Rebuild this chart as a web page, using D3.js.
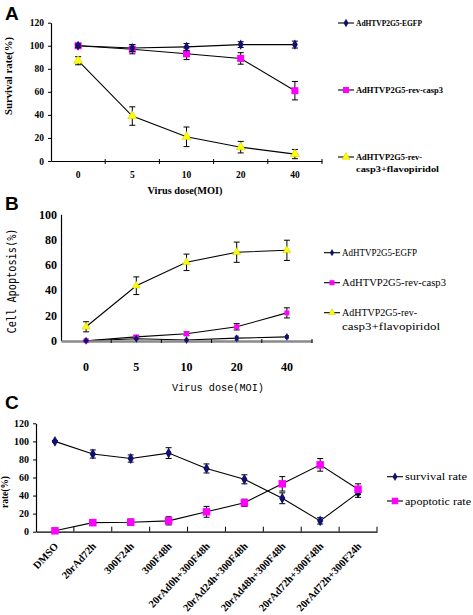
<!DOCTYPE html>
<html><head><meta charset="utf-8">
<script src="https://cdn.jsdelivr.net/npm/d3@7/dist/d3.min.js"></script>
<style>body{margin:0;background:#fff}svg{display:block}</style>
</head><body>
<svg id="c" width="473" height="615"></svg>
<script>
// ---------- DATA ----------
const doseCats = ["0", "5", "10", "20", "40"];
const seriesNames = ["AdHTVP2G5-EGFP", "AdHTVP2G5-rev-casp3", "AdHTVP2G5-rev-casp3+flavopiridol"];
// Panel A: survival rate (%)
const survEGFP = [100, 98, 99, 101, 101];
const survEGFPErr = [1.5, 3, 3, 2.5, 3];
const survCasp = [100, 97, 93, 89, 61];
const survCaspErr = [1.5, 4, 5, 5, 8];
const survFlavo = [87, 39, 21, 12, 6];
const survFlavoErr = [3.5, 8, 8.5, 5, 4];
const ticksA = [0, 20, 40, 60, 80, 100, 120];
// Panel B: cell apoptosis (%)
const apoEGFP = [0, 1.5, 0.5, 2, 3];
const apoEGFPErr = [0.3, 0.6, 0.6, 1.5, 1];
const apoCasp = [0, 3, 5.5, 11, 22];
const apoCaspErr = [0.3, 1, 1.5, 2.5, 4];
const apoFlavo = [11, 43.5, 62, 70, 71.5];
const apoFlavoErr = [4, 7, 6.5, 8, 8];
const ticksB = [0, 20, 40, 60, 80, 100];
// Panel C
const treatCats = ["DMSO", "20rAd72h", "300F24h", "300F48h", "20rAd0h+300F48h", "20rAd24h+300F48h", "20rAd48h+300F48h", "20rAd72h+300F48h", "20rAd72h+300F24h"];
const survC = [100, 86, 81, 87, 70, 58, 37, 12, 43];
const survCErr = [1, 4.5, 4, 6, 5, 5, 6, 3.5, 5];
const apoC = [1, 10, 10.5, 12, 22, 32, 53, 74, 47];
const apoCErr = [0.5, 3, 3.5, 4.5, 6, 4, 8, 7, 6];
const ticksC = [0, 20, 40, 60, 80, 100, 120];

// ---------- DRAW ----------
const svg = d3.select("#c");
svg.append("rect").attr("width", 473).attr("height", 615).attr("fill", "#fff");
const SERIF = "'Liberation Serif', 'DejaVu Serif', serif";
const NAVY = "#101070", MAG = "#ff00ff", YEL = "#ffff00";

function marker(g, type, x, y, s) {
  if (type === "diamond") {
    g.append("path").attr("d", d3.symbol(d3.symbolDiamond, s * s * 0.6)())
      .attr("transform", `translate(${x},${y})`).attr("fill", NAVY);
  } else if (type === "square") {
    g.append("rect").attr("x", x - s / 2).attr("y", y - s / 2).attr("width", s).attr("height", s).attr("fill", MAG);
  } else {
    g.append("path").attr("d", d3.symbol(d3.symbolTriangle, s * s * 0.55)())
      .attr("transform", `translate(${x},${y})`).attr("fill", YEL).attr("stroke", "#c8c800").attr("stroke-width", 0.5);
  }
}

function series(g, x, y, cats, vals, errs, type, size, cap) {
  const pts = cats.map((c, i) => [x(c) + x.bandwidth() / 2, y(vals[i])]);
  g.append("path").attr("d", d3.line()(pts)).attr("fill", "none").attr("stroke", "#000").attr("stroke-width", 1.1);
  return () => {
    cats.forEach((c, i) => {
      const cx = x(c) + x.bandwidth() / 2;
      const y1 = y(vals[i] + errs[i]), y2 = y(vals[i] - errs[i]);
      g.append("line").attr("x1", cx).attr("x2", cx).attr("y1", y1).attr("y2", y2).attr("stroke", "#000").attr("stroke-width", 1);
      g.append("line").attr("x1", cx - cap).attr("x2", cx + cap).attr("y1", y1).attr("y2", y1).attr("stroke", "#000").attr("stroke-width", 1);
      g.append("line").attr("x1", cx - cap).attr("x2", cx + cap).attr("y1", y2).attr("y2", y2).attr("stroke", "#000").attr("stroke-width", 1);
    });
    cats.forEach((c, i) => marker(g, type, x(c) + x.bandwidth() / 2, y(vals[i]), size));
  };
}

function yAxis(g, y, x0, ticks, fs, tickLen) {
  const ax = g.append("g").attr("transform", `translate(${x0},0)`)
    .call(d3.axisLeft(y).tickValues(ticks).tickSize(tickLen).tickPadding(4).tickSizeOuter(0));
  ax.select(".domain").attr("stroke", "#000").attr("stroke-width", 1.2);
  ax.selectAll("line").attr("stroke", "#000");
  ax.selectAll("text").attr("font-family", SERIF).attr("font-weight", "bold").attr("font-size", fs).attr("fill", "#000");
  return ax;
}

function xAxis(g, x, y0, fs, labelDy, color, width, tUp, tDown) {
  const ax = g.append("g").attr("transform", `translate(0,${y0})`)
    .call(d3.axisBottom(x).tickSize(0).tickPadding(labelDy).tickSizeOuter(0));
  ax.select(".domain").attr("stroke", color).attr("stroke-width", width);
  ax.selectAll("text").attr("font-family", SERIF).attr("font-weight", "bold").attr("font-size", fs).attr("fill", "#000");
  const r0 = x.range()[0], n = x.domain().length;
  for (let i = 1; i <= n; i++) {
    const tx = r0 + i * x.step();
    g.append("line").attr("x1", tx).attr("x2", tx).attr("y1", y0 - tUp).attr("y2", y0 + tDown).attr("stroke", "#000").attr("stroke-width", 1);
  }
  return ax;
}

function txt(x, y, s, opts) {
  const t = svg.append("text").attr("x", x).attr("y", y).text(s)
    .attr("font-family", opts.ff || SERIF).attr("font-size", opts.fs || 10)
    .attr("font-weight", opts.fw || "normal").attr("fill", "#000")
    .attr("text-anchor", opts.anchor || "start");
  if (opts.len) t.attr("textLength", opts.len).attr("lengthAdjust", "spacingAndGlyphs");
  if (opts.rot) t.attr("transform", `rotate(${opts.rot},${x},${y})`);
  return t;
}

function legendItem(x1, x2, y, type, size, label, fs, lh, fw) {
  svg.append("line").attr("x1", x1).attr("x2", x2).attr("y1", y).attr("y2", y).attr("stroke", "#000").attr("stroke-width", 1.1);
  marker(svg, type, (x1 + x2) / 2, y, size);
  label.forEach((l, i) => txt(x2 + 2, y + fs * 0.35 + i * lh, l[0], {fs: fs, len: l[1], fw: fw}));
}

// Panel letters
["A", "B", "C"].forEach((l, i) => txt(5, [20, 210, 409][i], l, {ff: "'Liberation Sans', Arial, sans-serif", fs: 19, fw: "bold"}));

// ===== Panel A =====
{
  const g = svg.append("g");
  const x = d3.scaleBand().domain(doseCats).range([51, 322]);
  const y = d3.scaleLinear().domain([0, 120]).range([161, 22.7]);
  yAxis(g, y, 51, ticksA, 9.5, 3);
  const d1 = series(g, x, y, doseCats, survFlavo, survFlavoErr, "tri", 8, 3);
  const d2 = series(g, x, y, doseCats, survCasp, survCaspErr, "square", 7, 3);
  const d3_ = series(g, x, y, doseCats, survEGFP, survEGFPErr, "diamond", 7, 3);
  xAxis(g, x, 161, 9.5, 10, "#000", 1.2, 2, 3);
  d1(); d2(); d3_();
  txt(12, 76, "Survival rate(%)", {fs: 10, fw: "bold", anchor: "middle", rot: -90, len: 78});
  txt(185, 194, "Virus dose(MOI)", {fs: 10, fw: "bold", anchor: "middle", len: 75});
  legendItem(338, 354, 23, "diamond", 6, [[seriesNames[0], 66]], 8.5, 12, "bold");
  legendItem(338, 354, 90, "square", 6, [[seriesNames[1], 87]], 8.5, 12, "bold");
  legendItem(338, 354, 157, "tri", 7, [["AdHTVP2G5-rev-", 66], ["casp3+flavopiridol", 83]], 8.5, 12, "bold");
}

// ===== Panel B =====
{
  const g = svg.append("g");
  const x = d3.scaleBand().domain(doseCats).range([61, 312]);
  const y = d3.scaleLinear().domain([0, 100]).range([340.7, 214.3]);
  yAxis(g, y, 61, ticksB, 12, 0);
  const d1 = series(g, x, y, doseCats, apoFlavo, apoFlavoErr, "tri", 7, 3);
  const d2 = series(g, x, y, doseCats, apoCasp, apoCaspErr, "square", 5, 3);
  const d3_ = series(g, x, y, doseCats, apoEGFP, apoEGFPErr, "diamond", 5.5, 2);
  xAxis(g, x, 341, 12, 21, "#8a8a8a", 2.5, 2, 2);
  d1(); d2(); d3_();
  txt(16, 281, "Cell Apoptosis(%)", {ff: "'DejaVu Sans Mono', monospace", fs: 11.5, anchor: "middle", rot: -90, len: 105});
  txt(218, 391, "Virus dose(MOI)", {ff: "'Liberation Mono', monospace", fs: 11.5, anchor: "middle", len: 92});
  legendItem(324, 340, 252.7, "diamond", 5, [[seriesNames[0], 75]], 10, 13.5, "normal");
  legendItem(324, 340, 282.7, "square", 5, [[seriesNames[1], 104]], 10, 13.5, "normal");
  legendItem(324, 340, 312.7, "tri", 6, [["AdHTVP2G5-rev-", 75], ["casp3+flavopiridol", 98]], 10, 13.5, "normal");
}

// ===== Panel C =====
{
  const g = svg.append("g");
  const x = d3.scaleBand().domain(treatCats).range([36, 377]);
  const y = d3.scaleLinear().domain([0, 120]).range([531.7, 423.3]);
  yAxis(g, y, 36, ticksC, 10, 3);
  const d1 = series(g, x, y, treatCats, survC, survCErr, "diamond", 7.5, 3);
  const d2 = series(g, x, y, treatCats, apoC, apoCErr, "square", 7.5, 3);
  const ax = xAxis(g, x, 531.7, 10.5, 0, "#000", 1.3, 5, 0);
  ax.selectAll("text")
    .attr("text-anchor", "end").attr("dy", 0)
    .attr("transform", "translate(4,15) rotate(-47)");
  d1(); d2();
  txt(8, 492, "rate(%)", {fs: 10, fw: "bold", anchor: "middle", rot: -90, len: 32});
  legendItem(387, 403, 476.7, "diamond", 6, [["survival rate", 62]], 10, 12, "normal");
  legendItem(387, 403, 501, "square", 6.5, [["apoptotic rate", 66]], 10, 12, "normal");
}
</script>
</body></html>
